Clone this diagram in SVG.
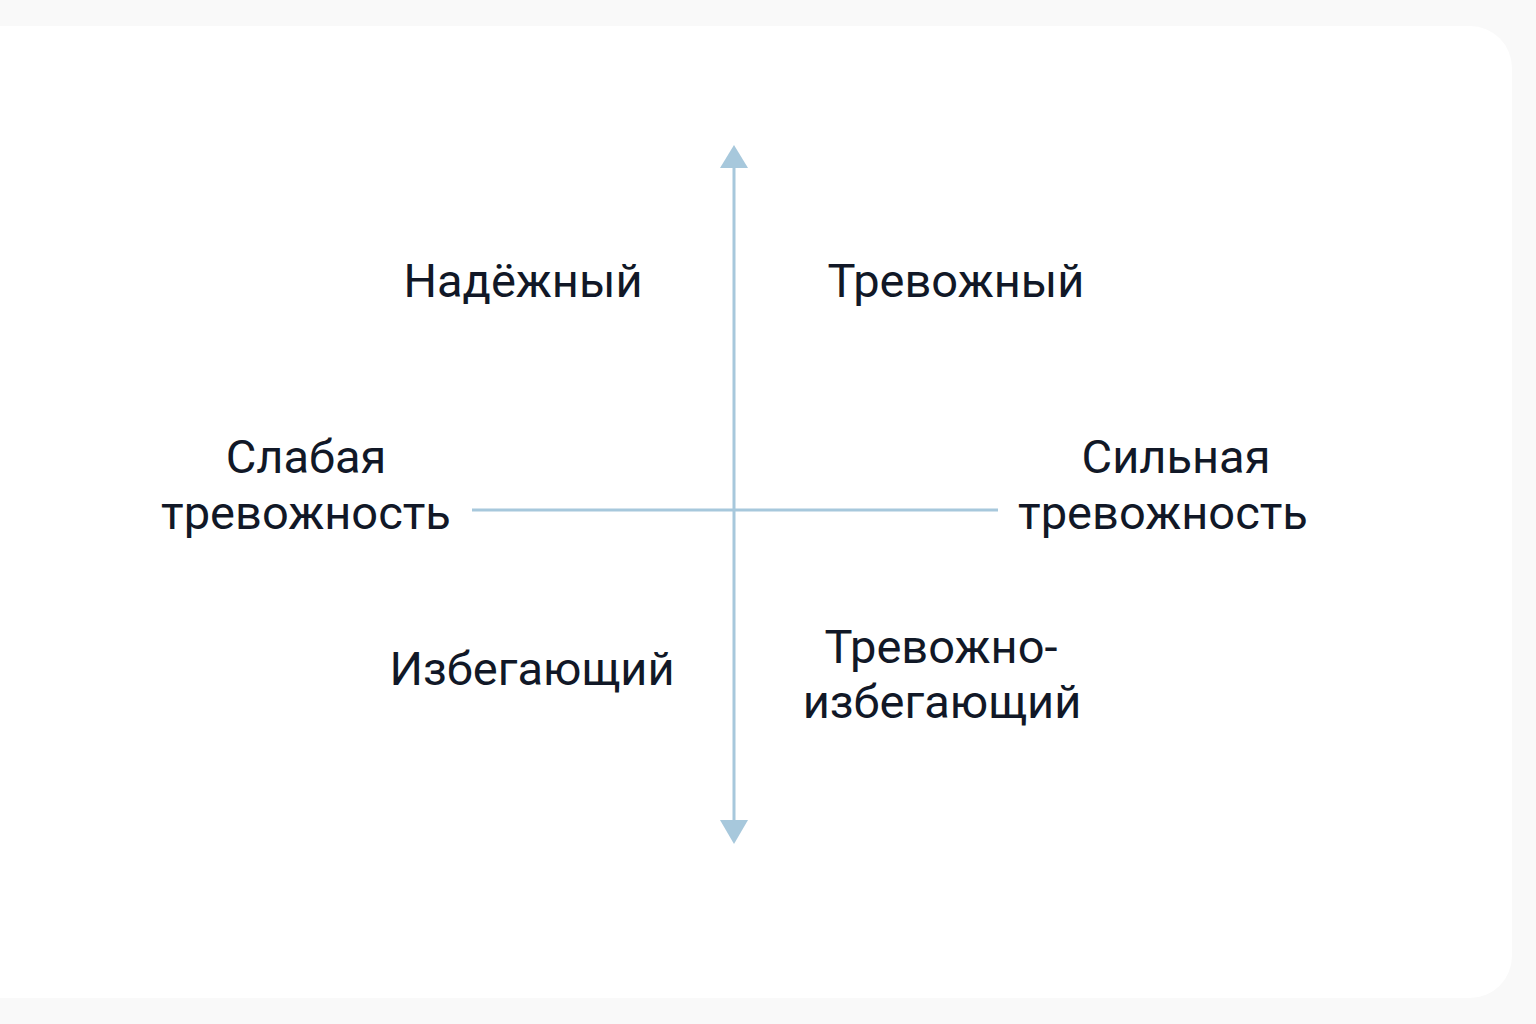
<svg xmlns="http://www.w3.org/2000/svg" width="1536" height="1024" viewBox="0 0 1536 1024">
  <defs>
    <style>
      .lbl { font-family: Roboto, Inter, "Noto Sans", sans-serif; font-size: 47px; fill: #111827; text-anchor: middle; }
      .axis { stroke: #a7c8dc; stroke-width: 3; fill: none; }
      .head { fill: #a7c8dc; }
    </style>
  </defs>
  <rect x="0" y="0" width="1536" height="1024" fill="#f9f9f9"/>
  <rect x="-60" y="26" width="1572" height="972" rx="42" ry="42" fill="#ffffff"/>

  <g id="connectors">
    <line class="axis" x1="734" y1="166" x2="734" y2="822"/>
    <polygon class="head" points="734,145 748,168 720,168"/>
    <polygon class="head" points="734,844 748,820 720,820"/>
    <line class="axis" x1="472" y1="510" x2="998" y2="510"/>
  </g>

  <g id="secure">
    <text class="lbl" x="523" y="297">Надёжный</text>
  </g>
  <g id="anxious">
    <text class="lbl" x="956" y="297">Тревожный</text>
  </g>
  <g id="low-anxiety">
    <text class="lbl" x="306" y="473">Слабая</text>
    <text class="lbl" x="306" y="529">тревожность</text>
  </g>
  <g id="high-anxiety">
    <text class="lbl" x="1176" y="473">Сильная</text>
    <text class="lbl" x="1163" y="529">тревожность</text>
  </g>
  <g id="avoidant">
    <text class="lbl" x="532" y="685">Избегающий</text>
  </g>
  <g id="anxious-avoidant">
    <text class="lbl" x="941" y="663">Тревожно-</text>
    <text class="lbl" x="942" y="718">избегающий</text>
  </g>
</svg>
